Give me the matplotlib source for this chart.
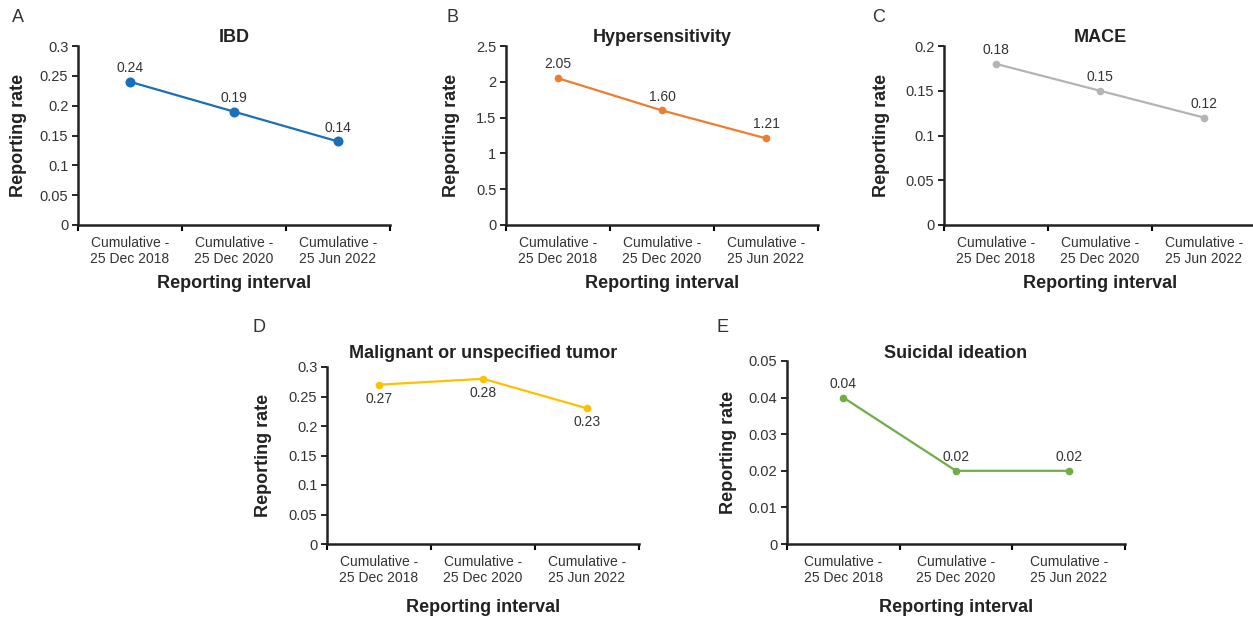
import matplotlib.pyplot as plt
import numpy as np

plt.rcParams['font.family'] = ['Liberation Sans', 'DejaVu Sans']

# x categories shared by all panels
intervals = ['Cumulative -\n25 Dec 2018', 'Cumulative -\n25 Dec 2020', 'Cumulative -\n25 Jun 2022']

# reporting rates per panel
ibd = [0.24, 0.19, 0.14]
hypersensitivity = [2.05, 1.60, 1.21]
mace = [0.18, 0.15, 0.12]
tumor = [0.27, 0.28, 0.23]
suicidal = [0.04, 0.02, 0.02]

W, H = 1253, 620
fig = plt.figure(figsize=(W / 100, H / 100), dpi=100)


def px_axes(left, right, top, bottom):
    return fig.add_axes([left / W, 1 - bottom / H, (right - left) / W, (bottom - top) / H])


# (letter, title, values, labels fmt, color, ymax, ystep, label above?, marker size, box, letter pos, ylabel x, title y)
panels = [
    ('A', 'IBD', ibd, '{:.2f}', '#1a6fb8', 0.3, 0.05, True, 6.2, (78, 390, 46, 225), (12, 18), 19, 37),
    ('B', 'Hypersensitivity', hypersensitivity, '{:.2f}', '#ed7d31', 2.5, 0.5, True, 4.5, (506, 818, 46, 225), (447, 18), 452, 37),
    ('C', 'MACE', mace, '{:.2f}', '#b4b4b4', 0.2, 0.05, True, 4.5, (944, 1256, 46, 225), (872, 18), 882, 37),
    ('D', 'Malignant or unspecified tumor', tumor, '{:.2f}', '#ffc000', 0.3, 0.05, False, 4.5, (327, 639, 367, 544), (252, 328), 264, 353),
    ('E', 'Suicidal ideation', suicidal, '{:.2f}', '#70ad47', 0.05, 0.01, True, 4.5, (787, 1125, 361, 544), (717, 328), 729, 353),
]

for letter, title, vals, fmt, color, ymax, ystep, above, ms, box, lpos, ylx, ty in panels:
    left, right, top, bottom = box
    ax = px_axes(left, right, top, bottom)
    x = np.arange(len(vals))
    ax.plot(x, vals, color=color, lw=1.6, marker='o', ms=ms, clip_on=False)
    for xi, v in zip(x, vals):
        off = 10 if above else -10
        ax.annotate(fmt.format(v), (xi, v), xytext=(0, off), textcoords='offset points',
                    ha='center', va='center', fontsize=10, color='#333333')
    ax.set_xlim(-0.5, len(vals) - 0.5)
    ax.set_ylim(0, ymax)
    yt = np.arange(0, ymax + ystep / 2, ystep)
    ax.set_yticks(yt)
    ax.set_yticklabels(['{:g}'.format(round(t, 3)) for t in yt])
    ax.set_xticks(np.arange(-0.5, len(vals), 1.0))
    ax.set_xticklabels([])
    ax.set_xticks(x, minor=True)
    ax.set_xticklabels(intervals, minor=True)
    ax.tick_params(axis='x', which='major', direction='out', length=4, width=1.5)
    ax.tick_params(axis='x', which='minor', length=0, pad=8, labelsize=10, labelcolor='#333333')
    ax.tick_params(axis='y', direction='out', length=4, width=1.2, labelsize=10.5,
                   labelcolor='#333333', pad=3)
    for s in ['top', 'right']:
        ax.spines[s].set_visible(False)
    for s in ['left', 'bottom']:
        ax.spines[s].set_linewidth(1.8)
        ax.spines[s].set_color('#222222')
    cx = (left + right) / 2
    fig.text(cx / W, 1 - ty / H, title, ha='center', va='center', fontsize=13,
             fontweight='bold', color='#222222')
    fig.text(lpos[0] / W, 1 - lpos[1] / H, letter, ha='left', va='center', fontsize=13,
             color='#333333')
    fig.text(ylx / W, 1 - ((top + bottom) / 2) / H, 'Reporting rate', rotation=90,
             ha='center', va='center', fontsize=13, fontweight='bold', color='#222222')
    xly = bottom + 58 if letter in 'ABC' else bottom + 63
    fig.text(cx / W, 1 - xly / H, 'Reporting interval', ha='center', va='center',
             fontsize=13, fontweight='bold', color='#222222')

plt.savefig('out.png', dpi=100)
